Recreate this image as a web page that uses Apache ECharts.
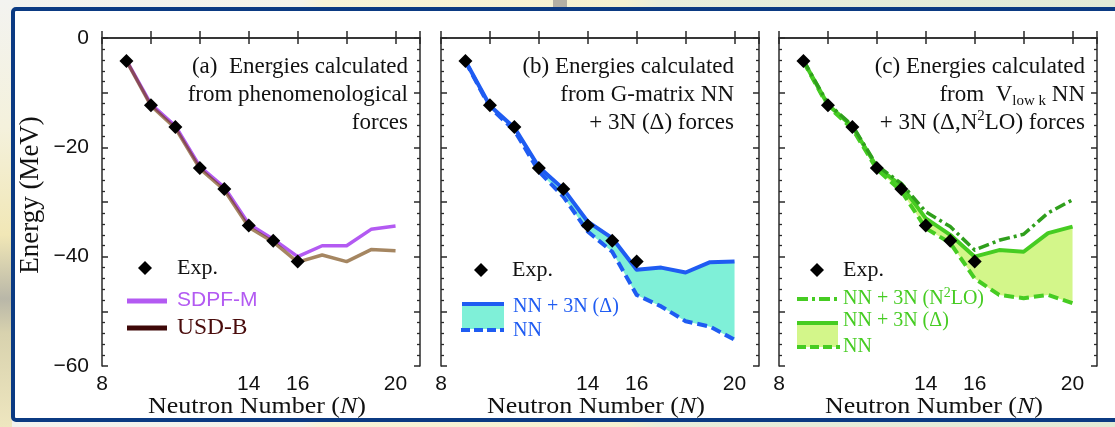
<!DOCTYPE html>
<html>
<head>
<meta charset="utf-8">
<script src="https://cdn.jsdelivr.net/npm/echarts@6/dist/echarts.min.js"></script>
<style>
  html, body { margin: 0; padding: 0; background: #ffffff; }
  #chart { width: 1115px; height: 427px; }
</style>
</head>
<body>
<div id="chart"></div>
<script>
// Ground-state energies of oxygen isotopes relative to 16O (MeV)
const neutronNumbers = [9, 10, 11, 12, 13, 14, 15, 16, 17, 18, 19, 20];
const expNeutrons = [9, 10, 11, 12, 13, 14, 15, 16];
const expEnergy = [-4.2, -12.3, -16.3, -23.8, -27.6, -34.3, -37.1, -40.9];

// (a) phenomenological interactions
const sdpfM = [-4.1, -12.1, -16.1, -23.5, -27.3, -34.0, -36.8, -40.0, -38.0, -38.0, -35.0, -34.4];
const usdB = [-4.2, -12.4, -16.5, -23.9, -27.8, -34.6, -37.3, -41.0, -39.7, -40.9, -38.7, -38.9];

// (b) G-matrix NN and NN + 3N(Delta)
const gMatrixNN3N = [-4.2, -12.4, -16.4, -23.6, -27.6, -33.6, -36.6, -42.4, -42.0, -42.9, -41.0, -40.9];
const gMatrixNN = [-4.3, -12.7, -16.9, -24.4, -29.0, -35.4, -39.1, -47.0, -49.1, -51.8, -52.8, -55.2];

// (c) V_low k NN, NN + 3N(Delta), NN + 3N(N2LO)
const vlowkN2LO = [-4.1, -12.0, -16.0, -23.3, -26.6, -31.8, -34.5, -38.8, -37.0, -35.9, -32.0, -29.6];
const vlowkNN3N = [-4.2, -12.2, -16.2, -23.6, -27.0, -33.0, -36.0, -40.0, -38.8, -39.1, -35.7, -34.5];
const vlowkNN = [-4.3, -12.5, -16.6, -24.0, -28.0, -34.8, -37.5, -44.0, -47.0, -47.6, -47.0, -48.5];

// axis labels that are printed
const xTickLabels = [8, 14, 16, 20];
const yTickLabels = [0, -20, -40, -60];

const pairs = (xs, ys) => xs.map((x, i) => [x, ys[i]]);

const SERIF = '"Liberation Serif", "DejaVu Serif", serif';
const SANS = '"Liberation Sans", Arial, sans-serif';
const FRAME = '#2a2a2a';

const gridBoxes = [
  { left: 102, top: 38, width: 318, height: 328, outerBoundsMode: 'none', containLabel: false },
  { left: 441, top: 38, width: 318, height: 328, outerBoundsMode: 'none', containLabel: false },
  { left: 779, top: 38, width: 318, height: 328, outerBoundsMode: 'none', containLabel: false }
];

function bottomAxis(g) {
  return {
    type: 'value', gridIndex: g, position: 'bottom', min: 8, max: 21, interval: 2,
    axisLine: { show: true, lineStyle: { color: FRAME, width: 1.5 } },
    axisTick: { show: true, inside: true, length: 7, lineStyle: { color: FRAME, width: 1.5 } },
    splitLine: { show: false },
    axisLabel: {
      show: true, margin: 8, fontFamily: SANS, fontSize: 21, color: '#111',
      formatter: v => (xTickLabels.indexOf(v) >= 0 ? String(v) : '')
    }
  };
}
function topAxis(g) {
  return {
    type: 'value', gridIndex: g, position: 'top', min: 8, max: 21, interval: 2,
    axisLine: { show: true, lineStyle: { color: FRAME, width: 1.5 } },
    axisTick: { show: true, inside: true, length: 6, lineStyle: { color: FRAME, width: 1.5 } },
    splitLine: { show: false }, axisLabel: { show: false }
  };
}
function sideAxis(g, pos, labelled) {
  const ax = {
    type: 'value', gridIndex: g, position: pos, min: -60, max: 0, interval: 10,
    axisLine: { show: true, lineStyle: { color: FRAME, width: 1.5 } },
    axisTick: { show: true, inside: true, length: 6, lineStyle: { color: FRAME, width: 1.5 } },
    minorTick: { show: true, splitNumber: 5, length: 3, lineStyle: { color: FRAME, width: 1.3 } },
    splitLine: { show: false },
    axisLabel: { show: false }
  };
  if (labelled) {
    ax.axisLabel = {
      show: true, margin: 13, fontFamily: SANS, fontSize: 21, color: '#111',
      formatter: v => (yTickLabels.indexOf(v) >= 0 ? (v < 0 ? '\u2212' + (-v) : String(v)) : '')
    };
    ax.name = 'Energy (MeV)';
    ax.nameLocation = 'middle';
    ax.nameGap = 58;
    ax.nameTextStyle = { fontFamily: SERIF, fontSize: 27, color: '#111', padding: [0, 0, 0, 14] };
  }
  return ax;
}

const xAxes = [], yAxes = [];
for (let g = 0; g < 3; g++) {
  xAxes.push(bottomAxis(g));
  yAxes.push(sideAxis(g, 'left', g === 0));
}
for (let g = 0; g < 3; g++) {
  xAxes.push(topAxis(g));
  yAxes.push(sideAxis(g, 'right', false));
}

function line(g, data, color, width, type, z, opacity) {
  return {
    type: 'line', xAxisIndex: g, yAxisIndex: g, data: pairs(neutronNumbers, data),
    symbol: 'none', silent: true, z: z,
    lineStyle: { color: color, width: width, type: type || 'solid', opacity: opacity == null ? 1 : opacity, cap: 'butt', join: 'round' }
  };
}
// shaded region between two curves, drawn through the grid's own scales
function band(g, upper, lower, fill) {
  return {
    type: 'custom', xAxisIndex: g, yAxisIndex: g, silent: true, z: 2,
    data: [[neutronNumbers[0], upper[0]]],
    renderItem: (params, api) => {
      const top = neutronNumbers.map((n, i) => api.coord([n, upper[i]]));
      const bottom = neutronNumbers.map((n, i) => api.coord([n, lower[i]])).reverse();
      return { type: 'polygon', shape: { points: top.concat(bottom) }, style: { fill: fill } };
    }
  };
}
function expPoints(g) {
  return {
    type: 'scatter', xAxisIndex: g, yAxisIndex: g, data: pairs(expNeutrons, expEnergy),
    symbol: 'diamond', symbolSize: 14, silent: true, z: 10,
    itemStyle: { color: '#000', opacity: 1 }
  };
}

const PURPLE = '#b35af2';
const TAN = '#6e3c00';
const BLUE = '#1f5cf2';
const CYAN = '#7ff0d8';
const GREEN = '#46cc22';
const GREEN_DARK = '#2f9f1c';
const LIME = '#d3f68a';

const series = [
  line(0, sdpfM, PURPLE, 3.5, 'solid', 3),
  line(0, usdB, TAN, 3.5, 'solid', 4, 0.62),
  expPoints(0),

  band(1, gMatrixNN3N, gMatrixNN, CYAN),
  line(1, gMatrixNN, BLUE, 4, [10, 5], 5),
  line(1, gMatrixNN3N, BLUE, 4, 'solid', 6),
  expPoints(1),

  band(2, vlowkNN3N, vlowkNN, LIME),
  line(2, vlowkNN, GREEN, 4, [10, 5], 5),
  line(2, vlowkNN3N, GREEN, 4, 'solid', 6),
  line(2, vlowkN2LO, GREEN_DARK, 3.5, [11, 4, 3, 4], 7),
  expPoints(2)
];

// panel captions, legends, axis titles and the slide frame
function caption(x, text, rich) {
  return {
    type: 'text', x: x, y: 53, z: 20, silent: true,
    style: {
      text: text, align: 'right', verticalAlign: 'top', lineHeight: 28,
      fontFamily: SERIF, fontSize: 23, fill: '#111', rich: rich || {}
    }
  };
}
function axisTitle(cx) {
  // slightly widened serif lettering under each panel
  return {
    type: 'text', x: cx, y: 407, z: 20, silent: true, scaleX: 1.13,
    style: {
      text: 'Neutron Number ({i|N})', align: 'center', verticalAlign: 'middle',
      fontFamily: SERIF, fontSize: 23, fill: '#111',
      rich: { i: { fontFamily: SERIF, fontSize: 23, fontStyle: 'italic', fill: '#111' } }
    }
  };
}
function label(x, y, text, color, font, size, rich) {
  return {
    type: 'text', x: x, y: y, z: 20, silent: true,
    style: {
      text: text, align: 'left', verticalAlign: 'middle', fontFamily: font, fontSize: size,
      fill: color, lineHeight: 26, rich: rich || {}
    }
  };
}
function diamond(cx, cy) {
  const r = 7;
  return { type: 'polygon', z: 20, silent: true, shape: { points: [[cx, cy - r], [cx + r, cy], [cx, cy + r], [cx - r, cy]] }, style: { fill: '#000' } };
}
function swatch(x1, x2, y, color, width, dash) {
  return { type: 'line', z: 21, silent: true, shape: { x1: x1, y1: y, x2: x2, y2: y }, style: { stroke: color, lineWidth: width, lineDash: dash || null } };
}
function patch(x, y, w, h, color) {
  return { type: 'rect', z: 20, silent: true, shape: { x: x, y: y, width: w, height: h }, style: { fill: color } };
}

const supSub = {
  sub: { fontFamily: SERIF, fontSize: 15, verticalAlign: 'bottom', lineHeight: 28, fill: '#111' },
  sup: { fontFamily: SERIF, fontSize: 15, verticalAlign: 'top', lineHeight: 28, fill: '#111' }
};
const greenSup = { sup: { fontFamily: SERIF, fontSize: 14, verticalAlign: 'top', lineHeight: 26, fill: GREEN } };

const graphic = [
  // slide surroundings
  { type: 'rect', z: -30, silent: true, shape: { x: 0, y: 0, width: 1115, height: 427 },
    style: { fill: new echarts.graphic.LinearGradient(0, 0, 1, 0, [
      { offset: 0, color: '#f2f2ef' }, { offset: 0.27, color: '#f4f3ea' },
      { offset: 0.29, color: '#f8f4d8' }, { offset: 0.56, color: '#f6f1d0' },
      { offset: 0.59, color: '#e8eedc' }, { offset: 1, color: '#e2ebd7' }]) } },
  { type: 'rect', z: -29, silent: true, shape: { x: 0, y: 0, width: 12, height: 427 },
    style: { fill: new echarts.graphic.LinearGradient(0, 0, 0, 1, [
      { offset: 0, color: '#f3f3f0' }, { offset: 0.3, color: '#f4f1dc' },
      { offset: 0.55, color: '#f1e7b6' }, { offset: 0.7, color: '#b9b7a8' },
      { offset: 0.78, color: '#d8d2ae' }, { offset: 1, color: '#eee6bf' }]) } },
  { type: 'rect', z: -28, silent: true, shape: { x: 553, y: 0, width: 14, height: 8 }, style: { fill: '#b3b0a4' } },
  { type: 'rect', z: -27, silent: true, shape: { x: 13, y: 9, width: 1120, height: 411, r: 3 },
    style: { fill: '#ffffff', stroke: '#0b3a82', lineWidth: 4 } },

  axisTitle(257), axisTitle(596), axisTitle(934),

  caption(408, '(a)  Energies calculated\nfrom phenomenological\nforces'),
  caption(734, '(b) Energies calculated\nfrom G-matrix NN\n+ 3N (\u0394) forces'),
  caption(1085, '(c) Energies calculated\nfrom  V{sub|low k} NN\n+ 3N (\u0394,N{sup|2}LO) forces', supSub),

  // legend (a)
  diamond(145, 268),
  label(177, 268, 'Exp.', '#111', SERIF, 22),
  swatch(127, 167, 301, PURPLE, 5),
  label(177, 300, 'SDPF-M', PURPLE, SANS, 21),
  swatch(127, 167, 328, '#3e0808', 5),
  label(177, 328, 'USD-B', '#4a0c0c', SERIF, 23.5),

  // legend (b)
  diamond(481, 270),
  label(512, 270, 'Exp.', '#111', SERIF, 22),
  patch(462, 304, 42, 25, CYAN),
  swatch(462, 504, 304, BLUE, 4),
  swatch(461, 504, 330, BLUE, 4, [9, 4]),
  label(513, 307, 'NN + 3N (\u0394)', BLUE, SERIF, 20),
  label(513, 331, 'NN', BLUE, SERIF, 20),

  // legend (c)
  diamond(817, 270),
  label(843, 270, 'Exp.', '#111', SERIF, 22),
  swatch(797, 838, 299, GREEN, 4, [11, 4, 3, 4]),
  label(843, 299, 'NN + 3N (N{sup|2}LO)', GREEN, SERIF, 20, greenSup),
  patch(797, 323, 41, 24, LIME),
  swatch(797, 838, 323, GREEN, 4),
  swatch(797, 840, 347, GREEN, 4, [9, 4]),
  label(843, 321, 'NN + 3N (\u0394)', GREEN, SERIF, 20),
  label(843, 347, 'NN', GREEN, SERIF, 20)
];

const chart = echarts.init(document.getElementById('chart'), null, { renderer: 'canvas' });
chart.setOption({
  animation: false,
  backgroundColor: 'transparent',
  grid: gridBoxes,
  xAxis: xAxes,
  yAxis: yAxes,
  series: series,
  graphic: graphic
});
</script>
</body>
</html>
